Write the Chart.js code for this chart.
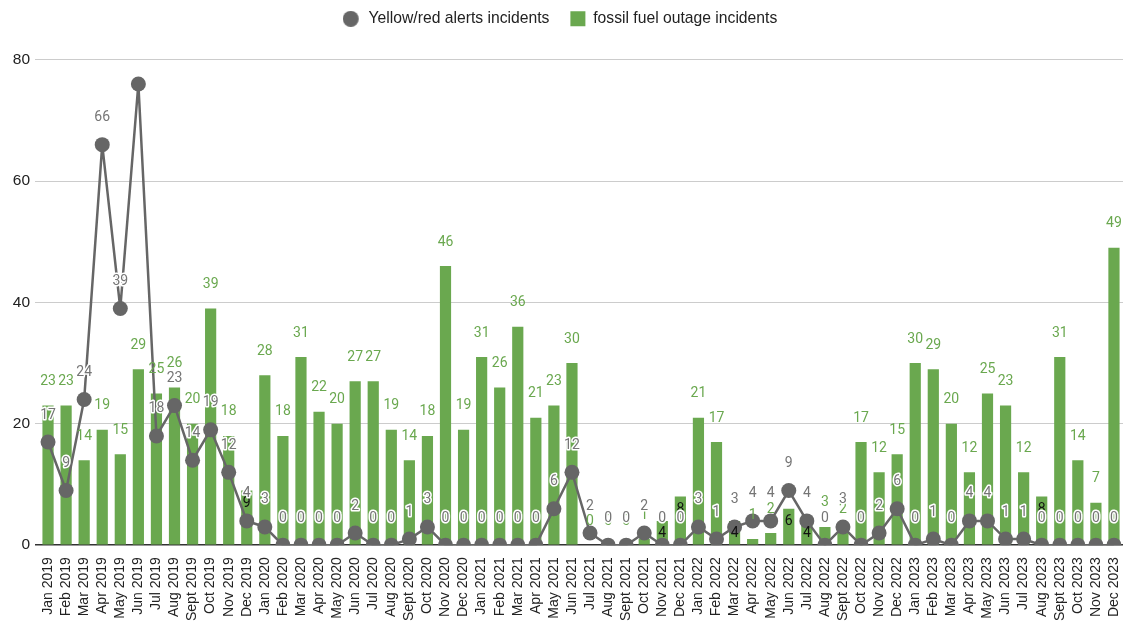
<!DOCTYPE html>
<html>
<head>
<meta charset="utf-8">
<script src="https://cdn.jsdelivr.net/npm/chart.js@4"></script>
<style>
  body { margin: 0; background: #fff; }
  #wrap { width: 1123px; height: 622px; position: relative; }
</style>
</head>
<body>
<div id="wrap"><canvas id="incidentChart"></canvas></div>
<script>
// months Jan 2019 .. Dec 2023
const months = [
  "Jan 2019", "Feb 2019", "Mar 2019", "Apr 2019", "May 2019", "Jun 2019", "Jul 2019", "Aug 2019", "Sept 2019", "Oct 2019", "Nov 2019", "Dec 2019",
  "Jan 2020", "Feb 2020", "Mar 2020", "Apr 2020", "May 2020", "Jun 2020", "Jul 2020", "Aug 2020", "Sept 2020", "Oct 2020", "Nov 2020", "Dec 2020",
  "Jan 2021", "Feb 2021", "Mar 2021", "Apr 2021", "May 2021", "Jun 2021", "Jul 2021", "Aug 2021", "Sept 2021", "Oct 2021", "Nov 2021", "Dec 2021",
  "Jan 2022", "Feb 2022", "Mar 2022", "Apr 2022", "May 2022", "Jun 2022", "Jul 2022", "Aug 2022", "Sept 2022", "Oct 2022", "Nov 2022", "Dec 2022",
  "Jan 2023", "Feb 2023", "Mar 2023", "Apr 2023", "May 2023", "Jun 2023", "Jul 2023", "Aug 2023", "Sept 2023", "Oct 2023", "Nov 2023", "Dec 2023"
];

const alerts = [
  17, 9, 24, 66, 39, 76, 18, 23, 14, 19, 12, 4,
  3, 0, 0, 0, 0, 2, 0, 0, 1, 3, 0, 0,
  0, 0, 0, 0, 6, 12, 2, 0, 0, 2, 0, 0,
  3, 1, 3, 4, 4, 9, 4, 0, 3, 0, 2, 6,
  0, 1, 0, 4, 4, 1, 1, 0, 0, 0, 0, 0
];

const outages = [
  23, 23, 14, 19, 15, 29, 25, 26, 20, 39, 18, 9,
  28, 18, 31, 22, 20, 27, 27, 19, 14, 18, 46, 19,
  31, 26, 36, 21, 23, 30, 0, 0, 0, 1, 4, 8,
  21, 17, 4, 1, 2, 6, 4, 3, 2, 17, 12, 15,
  30, 29, 20, 12, 25, 23, 12, 8, 31, 14, 7, 49
];

const yTicks = [0, 20, 40, 60, 80];

// bars whose value label sits inside the bar (dark text)
const insideLabels = ["Dec 2019", "Nov 2021", "Dec 2021", "Mar 2022", "Jun 2022", "Jul 2022", "Aug 2023"];

const green = "#6aa84f";
const grey = "#666666";
const axisFont = "'Liberation Sans', Arial, sans-serif";

// no extra right-hand gutter for the line's end points
Chart.registry.getController("line").prototype.getMaxOverflow = function () {
  return 0;
};

// legend dot for the line series (a bit left of the box centre)
const dot = document.createElement("canvas");
dot.width = 21;
dot.height = 16;
const dctx = dot.getContext("2d");
dctx.fillStyle = grey;
dctx.beginPath();
dctx.arc(8, 8, 8, 0, Math.PI * 2);
dctx.fill();

// simple value labels
const valueLabels = {
  id: "valueLabels",
  beforeUpdate(chart) {
    // push the plot down below the legend
    if (chart.legend && !chart.legend._patched) {
      const fit = chart.legend.fit;
      chart.legend.fit = function () {
        fit.call(this);
        this.height += 23;
      };
      chart.legend._patched = true;
    }
  },
  afterDatasetsDraw(chart) {
    const ctx = chart.ctx;
    const top = chart.chartArea.top;
    ctx.save();
    ctx.font = "14px Roboto";
    ctx.textAlign = "center";
    ctx.textBaseline = "middle";

    const barMeta = chart.getDatasetMeta(1);
    barMeta.data.forEach((bar, i) => {
      if (insideLabels.includes(months[i])) {
        ctx.fillStyle = "#111";
        ctx.fillText(outages[i], bar.x, bar.y + 13);
      } else {
        ctx.fillStyle = green;
        ctx.fillText(outages[i], bar.x, bar.y - 24);
      }
    });

    const lineMeta = chart.getDatasetMeta(0);
    ctx.lineJoin = "round";
    lineMeta.data.forEach((pt, i) => {
      const y = pt.y - 27;
      if (y < top + 5) return;
      ctx.strokeStyle = "#fff";
      ctx.lineWidth = 3;
      ctx.strokeText(alerts[i], pt.x, y);
      ctx.fillStyle = "#757575";
      ctx.fillText(alerts[i], pt.x, y);
    });
    ctx.restore();
  }
};

const ctx1 = document.getElementById("incidentChart");

new Chart(ctx1, {
  data: {
    labels: months,
    datasets: [
      {
        type: "line",
        label: "Yellow/red alerts incidents",
        data: alerts,
        borderColor: grey,
        backgroundColor: grey,
        borderWidth: 2.5,
        pointRadius: 7.5,
        pointHoverRadius: 7.5,
        pointBorderWidth: 0,
        pointStyle: "circle",
        tension: 0,
        order: 0
      },
      {
        type: "bar",
        label: "fossil fuel outage incidents",
        data: outages,
        backgroundColor: green,
        pointStyle: "rect",
        categoryPercentage: 1,
        barPercentage: 0.62,
        order: 1
      }
    ]
  },
  options: {
    responsive: true,
    maintainAspectRatio: false,
    animation: false,
    layout: { padding: { top: -10, right: 0, bottom: -3, left: 0 } },
    plugins: {
      legend: {
        position: "top",
        labels: {
          usePointStyle: true,
          boxWidth: 15,
          boxHeight: 15,
          padding: 21,
          color: "#222",
          font: { family: axisFont, size: 15.7 },
          generateLabels(chart) {
            const items = Chart.defaults.plugins.legend.labels.generateLabels(chart);
            items[0].pointStyle = dot;
            return items;
          }
        }
      },
      tooltip: { enabled: false }
    },
    scales: {
      x: {
        grid: { display: false },
        border: { display: false },
        afterFit(scale) {
          scale.paddingLeft = 0;
          scale.paddingRight = 0;
        },
        ticks: {
          autoSkip: false,
          maxRotation: 90,
          minRotation: 90,
          padding: 4,
          color: "#222",
          font: { family: axisFont, size: 14 }
        }
      },
      y: {
        min: 0,
        max: 80,
        afterBuildTicks(scale) {
          scale.ticks = yTicks.map(v => ({ value: v }));
        },
        afterFit(scale) {
          scale.width = 39;
        },
        border: { display: false },
        grid: {
          color: c => (c.tick && c.tick.value === 0 ? "#333" : "#cccccc"),
          lineWidth: c => (c.tick && c.tick.value === 0 ? 1.5 : 1),
          tickLength: 4
        },
        ticks: {
          padding: 5,
          color: "#222",
          font: { family: axisFont, size: 15.5 }
        }
      }
    }
  },
  plugins: [valueLabels]
});
</script>
</body>
</html>
